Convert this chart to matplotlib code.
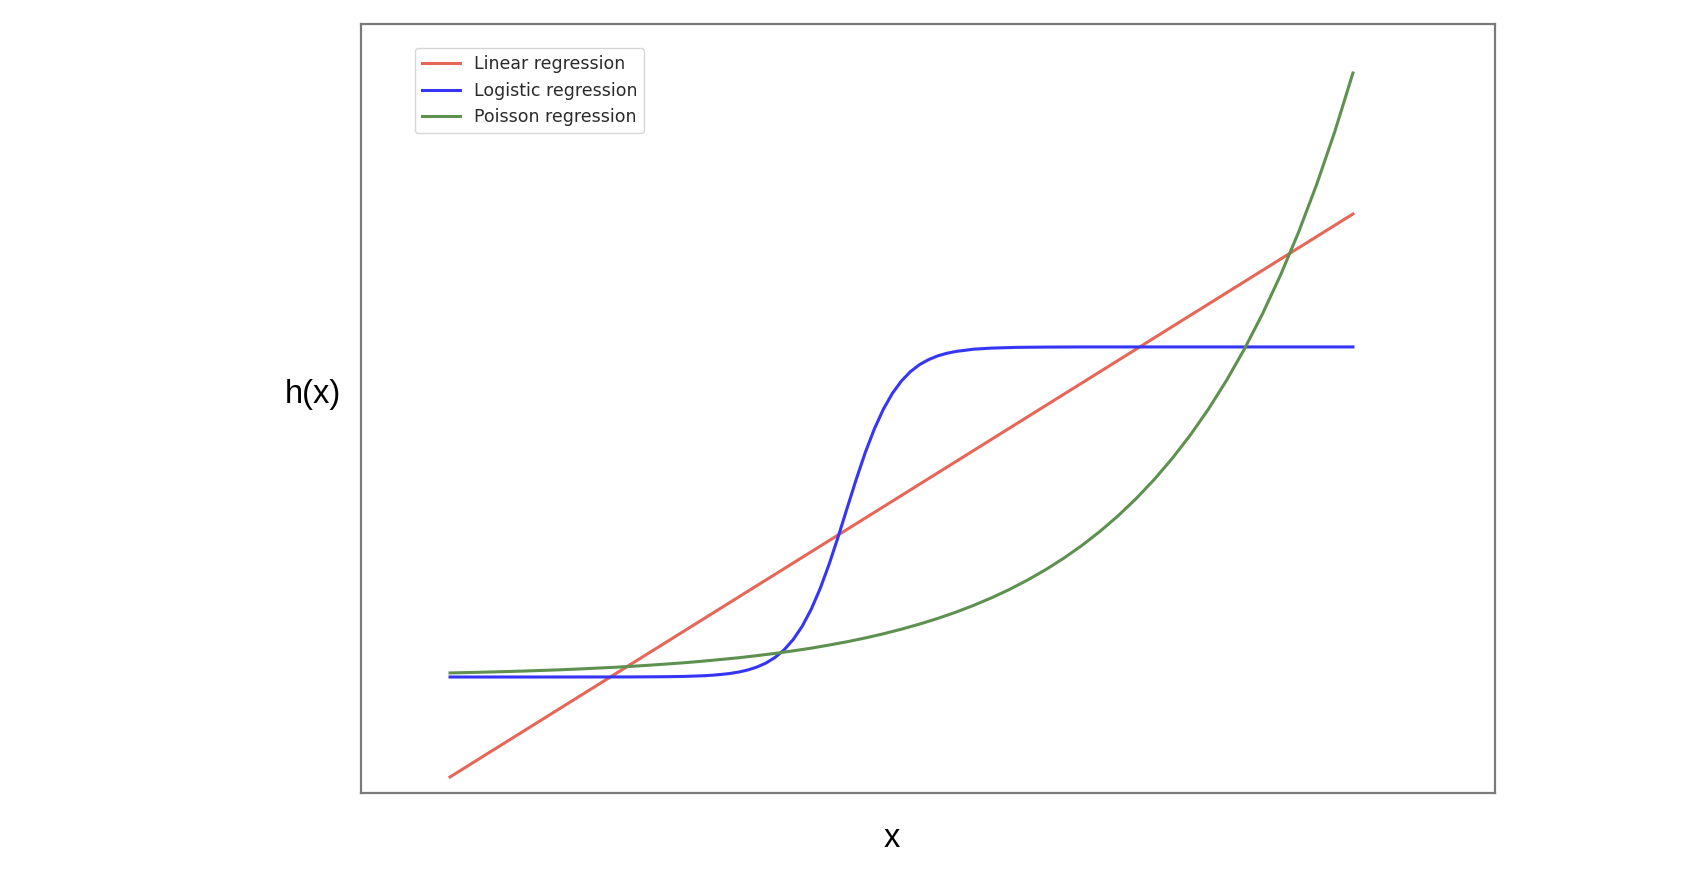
import matplotlib.pyplot as plt

# Values (arbitrary units, no ticks shown)
# x runs 0..100 across the curves, y runs 0..100 over the axes height
linear_x = [0, 100]
linear_y = [2.08, 75.29]

logistic_x = [0, 10, 20, 24, 26, 28, 29, 30, 31, 32, 33, 34, 35, 36, 37, 38, 39,
              40, 41, 42, 43, 44, 45, 46, 47, 48, 49, 50, 51, 52, 53, 54, 55, 56,
              58, 60, 63, 66, 70, 100]
logistic_y = [15.08, 15.08, 15.09, 15.12, 15.16, 15.24, 15.31, 15.41, 15.54, 15.73,
              16.00, 16.38, 16.90, 17.63, 18.61, 19.94, 21.67, 23.88, 26.60, 29.79,
              33.36, 37.11, 40.83, 44.30, 47.35, 49.92, 51.98, 53.58, 54.80, 55.70,
              56.35, 56.83, 57.17, 57.41, 57.71, 57.85, 57.95, 57.98, 58.00, 58.00]

poisson_x = list(range(0, 101, 2))
poisson_y = [15.61, 15.66, 15.72, 15.78, 15.85, 15.93, 16.01, 16.11, 16.22, 16.33,
             16.46, 16.61, 16.77, 16.94, 17.14, 17.36, 17.59, 17.86, 18.15, 18.48,
             18.83, 19.24, 19.67, 20.16, 20.70, 21.30, 21.96, 22.69, 23.50, 24.40,
             25.39, 26.49, 27.71, 29.06, 30.55, 32.20, 34.03, 36.05, 38.29, 40.77,
             43.52, 46.56, 49.92, 53.65, 57.77, 62.34, 67.39, 72.98, 79.18, 86.03,
             93.62]

labels = ['Linear regression', 'Logistic regression', 'Poisson regression']
colors = ['#e56757', '#3535f5', '#5e9150']

fig = plt.figure(figsize=(16.94, 8.74), dpi=100)
ax = fig.add_axes([0.2131, 0.0927, 0.6694, 0.8799])

ax.plot(linear_x, linear_y, color=colors[0], lw=2.2, label=labels[0])
ax.plot(logistic_x, logistic_y, color=colors[1], lw=2.2, label=labels[1])
ax.plot(poisson_x, poisson_y, color=colors[2], lw=2.2, label=labels[2])

ax.set_xlim(-9.86, 115.73)
ax.set_ylim(0, 100)
ax.set_xticks([])
ax.set_yticks([])
for s in ax.spines.values():
    s.set_color('#7a7a7a')
    s.set_linewidth(1.6)

# axis labels sit as free text, like in the reference
fig.text(0.1845, 0.5389, 'h(x)', ha='center', va='baseline',
         fontsize=23.5, family=['Liberation Sans', 'DejaVu Sans'])
fig.text(0.5266, 0.0309, 'x', ha='center', va='baseline',
         fontsize=23.5, family=['Liberation Sans', 'DejaVu Sans'])

leg = ax.legend(loc='upper left', bbox_to_anchor=(415 / 1694, 1 - 48 / 874),
                bbox_transform=fig.transFigure, borderaxespad=0, fontsize=12.5,
                handlelength=2.2, handletextpad=0.8, labelspacing=0.5, borderpad=0.4)
for t in leg.get_texts():
    t.set_color('#2a2a2a')

fig.savefig('out.png', dpi=100)
